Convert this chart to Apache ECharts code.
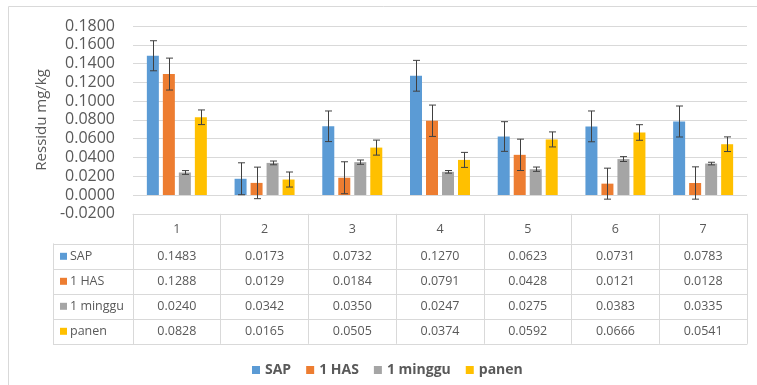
<!DOCTYPE html>
<html>
<head>
<meta charset="utf-8">
<script src="https://cdn.jsdelivr.net/npm/echarts@6/dist/echarts.min.js"></script>
<style>html,body{margin:0;padding:0;background:#fff;}#c{width:757px;height:385px;}</style>
</head>
<body>
<div id="c"></div>
<script>
const categories = ['1','2','3','4','5','6','7'];
const seriesNames = ['SAP','1 HAS','1 minggu','panen'];
const colors = ['#5B9BD5','#ED7D31','#A5A5A5','#FFC000'];
const sap     = [0.1483,0.0173,0.0732,0.1270,0.0623,0.0731,0.0783];
const has1    = [0.1288,0.0129,0.0184,0.0791,0.0428,0.0121,0.0128];
const minggu1 = [0.0240,0.0342,0.0350,0.0247,0.0275,0.0383,0.0335];
const panen   = [0.0828,0.0165,0.0505,0.0374,0.0592,0.0666,0.0541];
const sapErr     = [0.0160,0.0170,0.0163,0.0164,0.0158,0.0164,0.0165];
const has1Err    = [0.0170,0.0168,0.0170,0.0167,0.0167,0.0165,0.0172];
const minggu1Err = [0.0020,0.0020,0.0023,0.0014,0.0023,0.0026,0.0014];
const panenErr   = [0.0078,0.0080,0.0080,0.0080,0.0080,0.0083,0.0078];
const yMin = -0.02, yMax = 0.18, yInterval = 0.02;

const values = [sap, has1, minggu1, panen];
const errors = [sapErr, has1Err, minggu1Err, panenErr];

const FONT = "'Open Sans', sans-serif";
const TXT = '#595959';
const LINE = '#d9d9d9';
const BW = 12, GAP = 4, STEP = BW + GAP;

const errData = [];
const cellData = [];
values.forEach((arr, s) => arr.forEach((v, c) => {
  errData.push([c, v, errors[s][c], s]);
  cellData.push([c, s, v]);
}));

const chart = echarts.init(document.getElementById('c'), null, {renderer: 'canvas'});

const barSeries = values.map((arr, s) => ({
  name: seriesNames[s], type: 'bar', data: arr,
  xAxisIndex: 0, yAxisIndex: 0,
  barWidth: BW, barGap: (GAP / BW * 100) + '%',
  itemStyle: {color: colors[s]}
}));

const rich = {t: {color: TXT, fontSize: 12.5, fontFamily: FONT, padding: [0,0,0,3]}};
colors.forEach((col, i) => { rich['s' + i] = {width: 7, height: 7, backgroundColor: col}; });

chart.setOption({
  animation: false,
  textStyle: {fontFamily: FONT},
  graphic: [{type: 'rect', shape: {x: 8.5, y: 6.5, width: 800, height: 400}, style: {fill: 'none', stroke: LINE, lineWidth: 1}, silent: true}],
  legend: {
    data: seriesNames, left: 247, top: 358, icon: 'rect', itemWidth: 8, itemHeight: 8,
    itemGap: 15,
    textStyle: {color: TXT, fontSize: 14, fontWeight: 'bold', fontFamily: FONT}
  },
  grid: [
    {left: 133, right: 10, top: 26, bottom: 171.2},
    {left: 133, right: 10, top: 243.8, height: 100}
  ],
  xAxis: [
    {gridIndex: 0, type: 'category', data: categories, position: 'bottom',
     axisLine: {show: true, onZero: false, lineStyle: {color: LINE}},
     axisTick: {show: true, length: 30, interval: 0, lineStyle: {color: LINE}},
     axisLabel: {color: TXT, fontSize: 12.5, margin: 9, fontFamily: FONT},
     splitLine: {show: false}},
    {gridIndex: 1, type: 'category', data: categories, position: 'bottom',
     axisLine: {show: true, lineStyle: {color: LINE}},
     axisTick: {show: false}, axisLabel: {show: false},
     splitLine: {show: true, interval: 0, lineStyle: {color: LINE}}}
  ],
  yAxis: [
    {gridIndex: 0, type: 'value', min: yMin, max: yMax, interval: yInterval,
     name: 'Ressidu mg/kg', nameLocation: 'middle', nameGap: 80,
     nameTextStyle: {color: TXT, fontSize: 15, fontFamily: FONT},
     axisLine: {show: false}, axisTick: {show: false},
     axisLabel: {color: TXT, fontSize: 16, margin: 18, fontFamily: FONT, formatter: v => v.toFixed(4)},
     splitLine: {show: true, lineStyle: {color: LINE}}},
    {gridIndex: 1, type: 'category', data: seriesNames, inverse: true, position: 'left',
     axisLine: {show: true, lineStyle: {color: LINE}},
     axisTick: {show: true, length: 80, interval: 0, lineStyle: {color: LINE}},
     axisLabel: {align: 'left', margin: 73, interval: 0,
       formatter: (v, i) => '{s' + i + '|}{t|' + v + '}', rich: rich},
     splitLine: {show: true, interval: 0, lineStyle: {color: LINE}}},
    {gridIndex: 1, type: 'category', data: seriesNames, inverse: true, position: 'left', offset: 80,
     axisLine: {show: true, lineStyle: {color: LINE}},
     axisTick: {show: false}, axisLabel: {show: false}, splitLine: {show: false}}
  ],
  series: barSeries.concat([
    {name: 'err', type: 'custom', xAxisIndex: 0, yAxisIndex: 0, z: 5, data: errData,
     renderItem: function (params, api) {
       const c = api.value(0), v = api.value(1), e = api.value(2), s = api.value(3);
       const top = api.coord([c, v + e]);
       const bot = api.coord([c, v - e]);
       const x = Math.round(top[0] + (s - 1.5) * STEP) + 0.5;
       const cap = 3.5;
       const st = {stroke: '#404040', lineWidth: 1};
       return {type: 'group', children: [
         {type: 'line', shape: {x1: x, y1: top[1], x2: x, y2: bot[1]}, style: st},
         {type: 'line', shape: {x1: x - cap, y1: top[1], x2: x + cap, y2: top[1]}, style: st},
         {type: 'line', shape: {x1: x - cap, y1: bot[1], x2: x + cap, y2: bot[1]}, style: st}
       ]};
     }},
    {name: 'cells', type: 'custom', xAxisIndex: 1, yAxisIndex: 1, data: cellData,
     renderItem: function (params, api) {
       const p = api.coord([api.value(0), api.value(1)]);
       return {type: 'text', x: p[0], y: p[1], style: {
         text: api.value(2).toFixed(4), fill: TXT, fontSize: 12.5, fontFamily: FONT,
         align: 'center', verticalAlign: 'middle', textAlign: 'center', textVerticalAlign: 'middle'}};
     }}
  ])
});
</script>
</body>
</html>
